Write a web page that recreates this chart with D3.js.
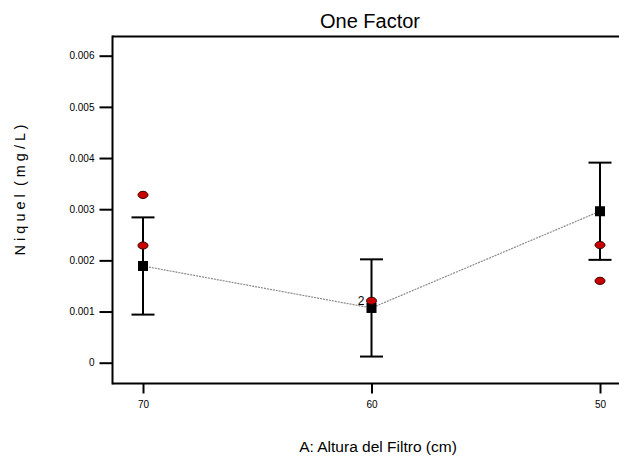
<!DOCTYPE html>
<html>
<head>
<meta charset="utf-8">
<script src="https://cdn.jsdelivr.net/npm/d3@7"></script>
<style>
body{margin:0;background:#fff;}
svg{display:block;font-family:"Liberation Sans",Arial,sans-serif;}
.eje path{display:none;}
.eje line{stroke:#000;stroke-width:2;}
.eje text{fill:#000;}
</style>
</head>
<body>
<div id="grafica"></div>
<script>
// niveles del factor (altura del filtro)
var niveles = ["70", "60", "50"];
// medias predichas
var medias = [0.00189, 0.00107, 0.00296];
// semiancho de las barras de error (LSD)
var semiAncho = [0.00095, 0.00095, 0.00095];
// observaciones individuales
var obsNivel = ["70", "70", "60", "50", "50"];
var obsValor = [0.00328, 0.00229, 0.00121, 0.00230, 0.00160];
var obsCuenta = [1, 1, 2, 1, 1];
var ticksY = [0, 0.001, 0.002, 0.003, 0.004, 0.005, 0.006];

var w = 619, h = 459;
var izq = 112.5, arriba = 36.5, abajo = 383.5;

var svg = d3.select("#grafica").append("svg")
	.attr("width", w).attr("height", h);

var x = d3.scalePoint().domain(niveles).range([143, 600]);
var y = d3.scaleLinear().domain([0, 0.006]).range([362.7, 55.7]);

// marco
svg.append("line").attr("x1", izq).attr("y1", arriba - 1).attr("x2", izq).attr("y2", abajo + 1)
	.attr("stroke", "#000").attr("stroke-width", 2);
svg.append("line").attr("x1", izq).attr("y1", arriba).attr("x2", w).attr("y2", arriba)
	.attr("stroke", "#000").attr("stroke-width", 2);
svg.append("line").attr("x1", izq).attr("y1", abajo).attr("x2", w).attr("y2", abajo)
	.attr("stroke", "#000").attr("stroke-width", 2);

// eje y
svg.append("g").attr("class", "eje")
	.attr("transform", "translate(" + izq + ",0)")
	.call(d3.axisLeft(y).tickValues(ticksY).tickSize(13).tickPadding(5)
		.tickFormat(function(d){ return d === 0 ? "0" : d3.format(".3f")(d); }))
	.selectAll("text").style("font-size", "10px");

// eje x
svg.append("g").attr("class", "eje")
	.attr("transform", "translate(0," + abajo + ")")
	.call(d3.axisBottom(x).tickSize(10).tickPadding(7))
	.selectAll("text").style("font-size", "10px");

// titulos
svg.append("text").attr("x", 370).attr("y", 28).attr("text-anchor", "middle")
	.style("font-size", "20px").text("One Factor");
svg.append("text").attr("x", 378).attr("y", 452).attr("text-anchor", "middle")
	.style("font-size", "15.5px").text("A: Altura del Filtro (cm)");
svg.append("text").attr("transform", "translate(25,190) rotate(-90)").attr("text-anchor", "middle")
	.style("font-size", "14.5px").attr("xml:space", "preserve")
	.text("N i q u e l  ( m g / L )");

// linea de medias
var linea = d3.line().x(function(d, i){ return x(niveles[i]); }).y(function(d){ return y(d); });
svg.append("path").datum(medias).attr("d", linea)
	.attr("fill", "none").attr("stroke", "#8a8a8a").attr("stroke-width", 1.2)
	.attr("stroke-dasharray", "2,1");

// barras de error
var barras = svg.append("g").attr("stroke", "#000").attr("stroke-width", 2);
niveles.forEach(function(n, i){
	var cx = x(n), y1 = y(medias[i] + semiAncho[i]), y2 = y(medias[i] - semiAncho[i]);
	barras.append("line").attr("x1", cx).attr("x2", cx).attr("y1", y1).attr("y2", y2);
	barras.append("line").attr("x1", cx - 11.5).attr("x2", cx + 11.5).attr("y1", y1).attr("y2", y1);
	barras.append("line").attr("x1", cx - 11.5).attr("x2", cx + 11.5).attr("y1", y2).attr("y2", y2);
});

// medias (cuadrados)
svg.selectAll(".media").data(medias).enter().append("rect").attr("class", "media")
	.attr("x", function(d, i){ return x(niveles[i]) - 5; })
	.attr("y", function(d){ return y(d) - 5; })
	.attr("width", 10).attr("height", 10).attr("fill", "#000");

// observaciones (puntos rojos)
svg.selectAll(".obs").data(obsValor).enter().append("ellipse").attr("class", "obs")
	.attr("cx", function(d, i){ return x(obsNivel[i]); })
	.attr("cy", function(d){ return y(d); })
	.attr("rx", 5).attr("ry", 3.6)
	.attr("fill", "#c80000").attr("stroke", "#3a0000").attr("stroke-width", 1);

svg.selectAll(".cuenta").data(obsValor).enter()
	.filter(function(d, i){ return obsCuenta[i] > 1; })
	.append("text").attr("class", "cuenta")
	.attr("x", function(d){ return x(obsNivel[obsValor.indexOf(d)]) - 7; })
	.attr("y", function(d){ return y(d) + 4; })
	.attr("text-anchor", "end").style("font-size", "12px")
	.text(function(d){ return obsCuenta[obsValor.indexOf(d)]; });
</script>
</body>
</html>
